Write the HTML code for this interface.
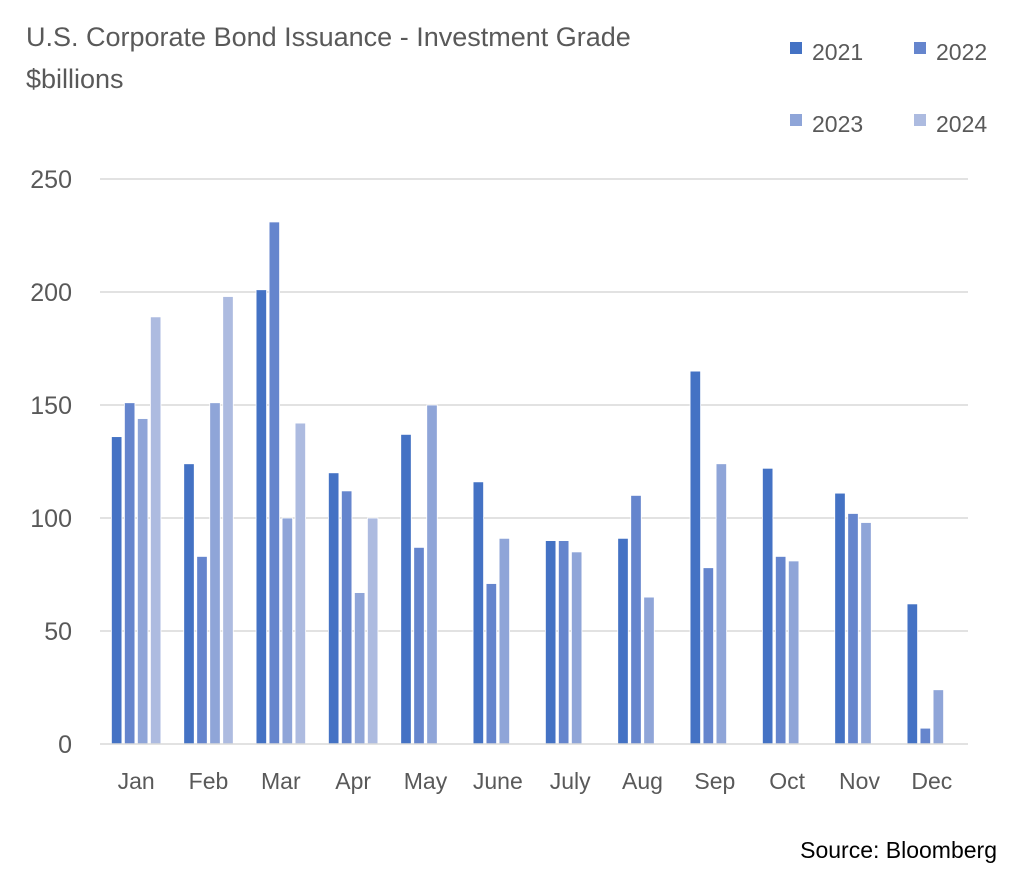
<!DOCTYPE html>
<html><head><meta charset="utf-8"><style>
body{margin:0;background:#fff;}
svg text{font-family:"Liberation Sans",sans-serif;}
</style></head><body>
<svg id="chart" width="1024" height="883" viewBox="0 0 1024 883" xmlns="http://www.w3.org/2000/svg">
<rect width="1024" height="883" fill="#fff"/>
<text x="26" y="46" font-size="27" fill="#595959">U.S. Corporate Bond Issuance - Investment Grade</text>
<text x="26" y="88" font-size="27" fill="#595959">$billions</text>
<g id="legend"></g>
<g id="grid"></g>
<g id="bars"></g>
<g id="axes"></g>
<text x="997" y="858" font-size="23" fill="#000" text-anchor="end">Source: Bloomberg</text>
</svg>
<script>
const categories=["Jan","Feb","Mar","Apr","May","June","July","Aug","Sep","Oct","Nov","Dec"];
const seriesNames=["2021","2022","2023","2024"];
const s2021=[136,124,201,120,137,116,90,91,165,122,111,62];
const s2022=[151,83,231,112,87,71,90,110,78,83,102,7];
const s2023=[144,151,100,67,150,91,85,65,124,81,98,24];
const s2024=[189,198,142,100,null,null,null,null,null,null,null,null];
const yTicks=[0,50,100,150,200,250];
const colors=["#4472C4","#6585CD","#8FA5D8","#ADBBE0"];
const series=[s2021,s2022,s2023,s2024];
const NS="http://www.w3.org/2000/svg";
const x0=100,x1=968,yBase=744,yTop=179,yMax=250;
const y=v=>yBase-(v/yMax)*(yBase-yTop);
const gw=(x1-x0)/categories.length;
const bw=10.5,step=13;
function mk(t,a,p){const e=document.createElementNS(NS,t);for(const k in a)e.setAttribute(k,a[k]);p.appendChild(e);return e;}
const grid=document.getElementById('grid'),axes=document.getElementById('axes'),bars=document.getElementById('bars'),leg=document.getElementById('legend');
yTicks.forEach(t=>{
  if(t>0){const l=mk('line',{x1:x0,x2:x1,y1:y(t),y2:y(t),stroke:'#d9d9d9','stroke-width':1.5},grid);
  
  }
  const tx=mk('text',{x:72,y:y(t)+9,'font-size':25,fill:'#595959','text-anchor':'end'},axes);
  tx.textContent=t;
  
  
});
const ax=mk('line',{x1:x0,x2:x1,y1:yBase,y2:yBase,stroke:'#d9d9d9','stroke-width':1.5},axes);


categories.forEach((c,i)=>{
  const cx=x0+gw*(i+0.5);
  const tx=mk('text',{x:cx,y:789,'font-size':23,fill:'#595959','text-anchor':'middle'},axes);
  tx.textContent=c;
  
  
  series.forEach((s,j)=>{
    const v=s[i]; if(v==null)return;
    const bx=cx-2*step+j*step+(step-bw)/2;
    const r=mk('rect',{x:bx,y:y(v),width:bw,height:yBase-y(v),fill:colors[j],stroke:'#fff','stroke-width':0.8},bars);
    
    
  });
});
const legPos=[[790,52],[914,52],[790,124],[914,124]];
seriesNames.forEach((n,j)=>{
  const g=mk('g',{},leg);
  
  
  mk('rect',{x:legPos[j][0],y:legPos[j][1]-10,width:12,height:12,fill:colors[j]},g);
  const t=mk('text',{x:legPos[j][0]+22,y:legPos[j][1]+8,'font-size':23,fill:'#595959'},g);
  t.textContent=n;
});
</script>
</body></html>
